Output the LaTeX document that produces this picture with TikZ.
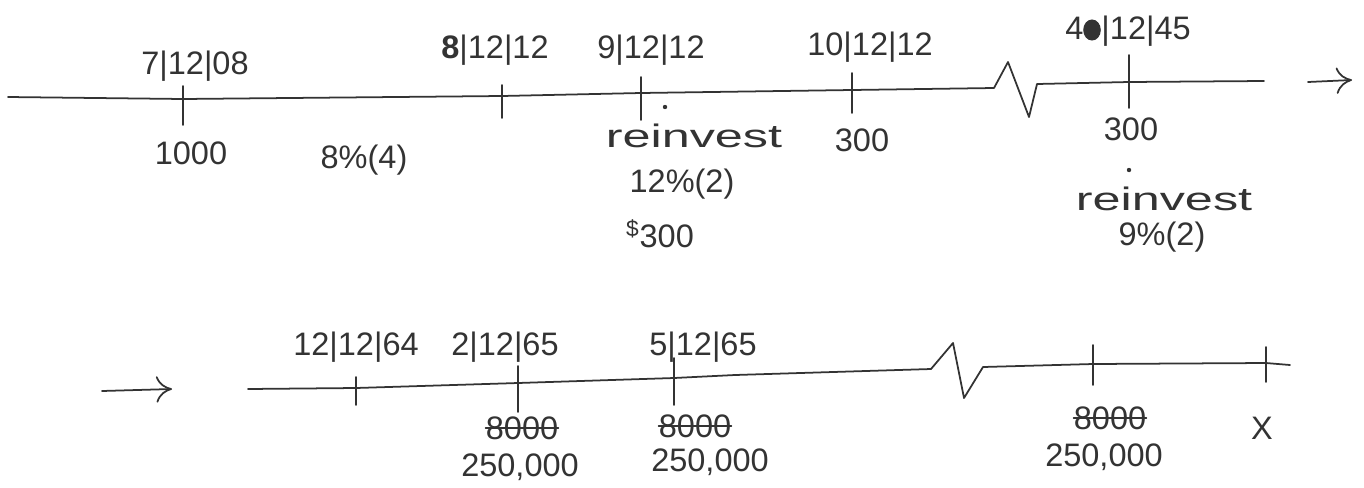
\documentclass[tikz,border=0pt]{standalone}
\usepackage{fontspec}
\setmainfont{Liberation Sans}
\usetikzlibrary{arrows.meta,shapes.geometric}
\definecolor{ink}{HTML}{333333}
\begin{document}
\begin{tikzpicture}[x=0.02cm,y=-0.02cm,
  pen/.style={line width=1pt, draw=ink, line cap=round, line join=round},
  lbl/.style={text=ink, font=\fontsize{18.5}{21}\selectfont, inner sep=0pt},
  strike/.style={pen, line width=0.8pt},
  hookarrow/.style={pen, -{To[length=9pt,width=15pt]}},
]
\useasboundingbox (0,0) rectangle (1364,487);

% ---------- top timeline ----------
\coordinate (L0) at (8,97);
\coordinate (L9) at (1264,81);
\draw[pen] (L0) -- (183,99) -- (502,96) -- (641,93) -- (852,90) -- (994,88)
  -- (1008,62) -- (1029,117) -- (1037,84) -- (1129,82) -- (L9);

\foreach \n/\x/\ya/\yb in {t1/183/86/125, t2/502/85/118, t3/641/77/120, t4/852/73/113, t5/1129/55/108}{
  \coordinate (\n u) at (\x,\ya);
  \coordinate (\n d) at (\x,\yb);
  \draw[pen] (\n u) -- (\n d);
}

\node[lbl] (d1) at (195,66) {7|12|08};
\node[lbl] (d2) at (495,50) {\textbf{8}|12|12};
\node[lbl] (d3) at (651,50) {9|12|12};
\node[lbl] (d4) at (870,47) {10|12|12};
\node[lbl] (d5) at (1128,31) {4\phantom{8}|12|45};
\node[fill=ink, ellipse, minimum width=10pt, minimum height=12pt, inner sep=0pt] (blob) at (1092,30) {};

\node[lbl] (a1) at (191,153) {1000};
\node[lbl] (r1) at (364,160) {8\%(4)};
\node[fill=ink, circle, inner sep=0pt, minimum size=2.5pt] (dot1) at (665,107) {};
\node[lbl] (inv1) at (694,136) {\scalebox{1.55}[1]{reinvest}};
\node[lbl] (r2) at (682,184) {12\%(2)};
\node[lbl] (m1) at (660,234) {\textsuperscript{\$}300};
\node[lbl] (a2) at (862,140) {300};
\node[lbl] (a3) at (1131,129) {300};
\node[fill=ink, circle, inner sep=0pt, minimum size=2.5pt] (dot2) at (1129,170) {};
\node[lbl] (inv2) at (1164,199) {\scalebox{1.55}[1]{reinvest}};
\node[lbl] (r3) at (1162,237) {9\%(2)};

\coordinate (ar1s) at (1308,82);
\coordinate (ar1e) at (1352,80);
\draw[hookarrow] (ar1s) -- (ar1e);

% ---------- bottom timeline ----------
\coordinate (ar2s) at (102,391);
\coordinate (ar2e) at (172,389);
\draw[hookarrow] (ar2s) -- (ar2e);

\coordinate (B0) at (248,389);
\coordinate (B9) at (1290,365);
\draw[pen] (B0) -- (356,388) -- (518,383) -- (674,378) -- (735,375) -- (931,369)
  -- (953,343) -- (964,398) -- (983,367) -- (1093,364) -- (1266,363) -- (B9);

\foreach \n/\x/\ya/\yb in {b1/356/377/405, b2/518/366/412, b3/674/358/405, b4/1093/345/385, b5/1266/347/382}{
  \coordinate (\n u) at (\x,\ya);
  \coordinate (\n d) at (\x,\yb);
  \draw[pen] (\n u) -- (\n d);
}

\node[lbl] (e1) at (356,347) {12|12|64};
\node[lbl] (e2) at (505,347) {2|12|65};
\node[lbl] (e3) at (703,347) {5|12|65};

\node[lbl] (s1) at (522,428) {8000};
\draw[strike] (s1.west) -- (s1.east);
\node[lbl] (v1) at (520,467) {250,000};
\node[lbl] (s2) at (695,426) {8000};
\draw[strike] (s2.west) -- (s2.east);
\node[lbl] (v2) at (710,462) {250,000};
\node[lbl] (s3) at (1110,418) {8000};
\draw[strike] (s3.west) -- (s3.east);
\node[lbl] (v3) at (1104,457) {250,000};
\node[lbl] (x1) at (1262,428) {X};
\end{tikzpicture}
\end{document}
